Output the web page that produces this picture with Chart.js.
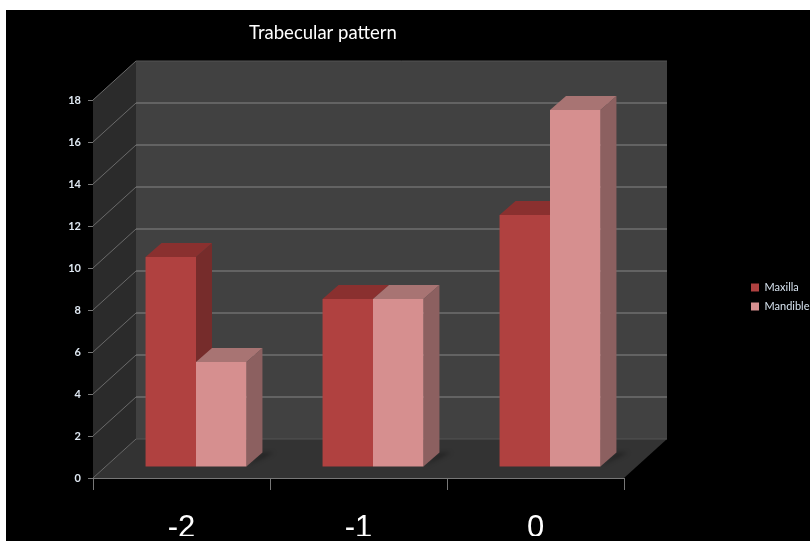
<!DOCTYPE html>
<html>
<head>
<meta charset="utf-8">
<title>Trabecular pattern</title>
<script src="https://cdn.jsdelivr.net/npm/chart.js@4"></script>
<style>
  html, body { margin: 0; padding: 0; background: #fff; overflow: hidden; }
  #chart { position: absolute; left: 6px; top: 10px; background: #000; }
</style>
</head>
<body>
<canvas id="chart" width="804" height="531"></canvas>
<script>
const categories = ['-2', '-1', '0'];
const maxilla = [10, 8, 12];
const mandible = [5, 8, 17];
const titleText = 'Trabecular pattern';

// depth of the fake 3D box, and where the bars sit inside it
const WALL = { dx: 43, dy: -39 };
const BAR_SHIFT = { dx: 14.5, dy: -11 };
const BAR_DEPTH = { dx: 16, dy: -14 };
const FACES = [
  { side: '#762c2b', top: '#8a302f' },
  { side: '#8c6060', top: '#a87473' }
];
// the original has its title off centre and its legend running off the right edge
const TITLE_CENTER = 317;
const LEGEND_LEFT = 737;
const LEGEND_MIDDLE = 287;

function poly(ctx, pts, fill) {
  ctx.beginPath();
  pts.forEach((p, i) => (i ? ctx.lineTo(p[0], p[1]) : ctx.moveTo(p[0], p[1])));
  ctx.closePath();
  ctx.fillStyle = fill;
  ctx.fill();
}

const box3d = {
  id: 'box3d',
  afterLayout(chart) {
    const t = chart.titleBlock;
    t.right = 2 * TITLE_CENTER - t.left;
    const l = chart.legend;
    const shift = LEGEND_MIDDLE - (l.top + l.bottom) / 2;
    l.top += shift;
    l.bottom += shift;
    l.right += LEGEND_LEFT - l.left;
    l.left = LEGEND_LEFT;
  },
  beforeDatasetsDraw(chart) {
    const { ctx, chartArea: a, scales } = chart;
    const d = WALL;
    ctx.save();
    poly(ctx, [[a.left, a.bottom], [a.left + d.dx, a.bottom + d.dy], [a.left + d.dx, a.top + d.dy], [a.left, a.top]], '#2b2b2b');
    poly(ctx, [[a.left + d.dx, a.top + d.dy], [a.right + d.dx, a.top + d.dy], [a.right + d.dx, a.bottom + d.dy], [a.left + d.dx, a.bottom + d.dy]], '#414141');
    poly(ctx, [[a.left, a.bottom], [a.right, a.bottom], [a.right + d.dx, a.bottom + d.dy], [a.left + d.dx, a.bottom + d.dy]], '#333333');

    scales.y.ticks.forEach(t => {
      const y = scales.y.getPixelForValue(t.value);
      const edge = t.value === scales.y.min || t.value === scales.y.max;
      ctx.strokeStyle = '#6a6a6a';
      ctx.lineWidth = 1;
      ctx.beginPath();
      ctx.moveTo(a.left, y);
      ctx.lineTo(a.left + d.dx, y + d.dy);
      ctx.stroke();
      ctx.lineWidth = edge ? 1 : 2;
      ctx.strokeStyle = edge ? '#555555' : '#636363';
      ctx.beginPath();
      ctx.moveTo(a.left + d.dx, y + d.dy);
      ctx.lineTo(a.right + d.dx, y + d.dy);
      ctx.stroke();
    });

    // side and top faces go down first, the library paints the fronts over them
    ctx.translate(BAR_SHIFT.dx, BAR_SHIFT.dy);
    const b = BAR_DEPTH;
    chart.data.datasets.forEach((ds, di) => {
      chart.getDatasetMeta(di).data.forEach(bar => {
        const { x, y, base, width } = bar.getProps(['x', 'y', 'base', 'width'], true);
        const l = x - width / 2, r = x + width / 2;
        if (di === 1) {
          ctx.filter = 'blur(2px)';
          poly(ctx, [[r, base], [r + b.dx + 12, base + b.dy], [r + b.dx, base + b.dy]], 'rgba(0,0,0,0.3)');
          ctx.filter = 'none';
        }
        poly(ctx, [[r, y], [r + b.dx, y + b.dy], [r + b.dx, base + b.dy], [r, base]], FACES[di].side);
        poly(ctx, [[l, y], [r, y], [r + b.dx, y + b.dy], [l + b.dx, y + b.dy]], FACES[di].top);
      });
    });
    ctx.restore();
  },
  beforeDatasetDraw(chart) {
    chart.ctx.save();
    chart.ctx.translate(BAR_SHIFT.dx, BAR_SHIFT.dy);
  },
  afterDatasetDraw(chart) {
    chart.ctx.restore();
  },
  beforeDraw(chart) {
    const { ctx, width, height } = chart;
    ctx.save();
    ctx.fillStyle = '#000';
    ctx.fillRect(0, 0, width, height);
    ctx.restore();
  }
};

new Chart(document.getElementById('chart'), {
  type: 'bar',
  plugins: [box3d],
  data: {
    labels: categories,
    datasets: [
      { label: 'Maxilla', data: maxilla, backgroundColor: '#b04140', clip: false },
      { label: 'Mandible', data: mandible, backgroundColor: '#d68f8f', clip: false }
    ]
  },
  options: {
    responsive: false,
    animation: false,
    events: [],
    layout: { padding: { left: 0, top: 0, right: 0, bottom: 5 } },
    datasets: { bar: { categoryPercentage: 0.57, barPercentage: 1, borderWidth: 0 } },
    scales: {
      x: {
        grid: { color: '#777', drawOnChartArea: false, tickLength: 12, tickColor: '#777' },
        border: { color: '#777' },
        ticks: { color: '#fff', padding: 20, font: { family: 'Liberation Sans', size: 31 }, maxRotation: 0 },
        afterFit(s) { s.height = 58; }
      },
      y: {
        min: 0,
        max: 18,
        grid: { color: '#777', drawOnChartArea: false, tickLength: 5, tickColor: '#777' },
        border: { color: '#777' },
        ticks: { color: '#dfe8f2', stepSize: 2, padding: 7, font: { family: 'Lato', size: 11, weight: 'bold' } },
        afterFit(s) { s.width = 87; }
      },
      xGap: {
        position: 'top',
        type: 'category',
        labels: [],
        grid: { display: false },
        border: { display: false },
        ticks: { display: false },
        afterFit(s) { s.height = 41.8; }
      },
      yGap: {
        position: 'right',
        type: 'linear',
        grid: { display: false },
        border: { display: false },
        ticks: { display: false },
        afterFit(s) { s.width = 804 - 618 - s.chart.legend.width; }
      }
    },
    plugins: {
      title: {
        display: true,
        text: titleText,
        color: '#fff',
        padding: { top: 12, bottom: 14 },
        font: { family: 'Lato', size: 18.5, weight: 'normal' }
      },
      legend: {
        position: 'right',
        labels: { color: '#d6e2ee', boxWidth: 8, boxHeight: 8, padding: 8, font: { family: 'Lato', size: 11 } }
      },
      tooltip: { enabled: false }
    }
  }
});
</script>
</body>
</html>
